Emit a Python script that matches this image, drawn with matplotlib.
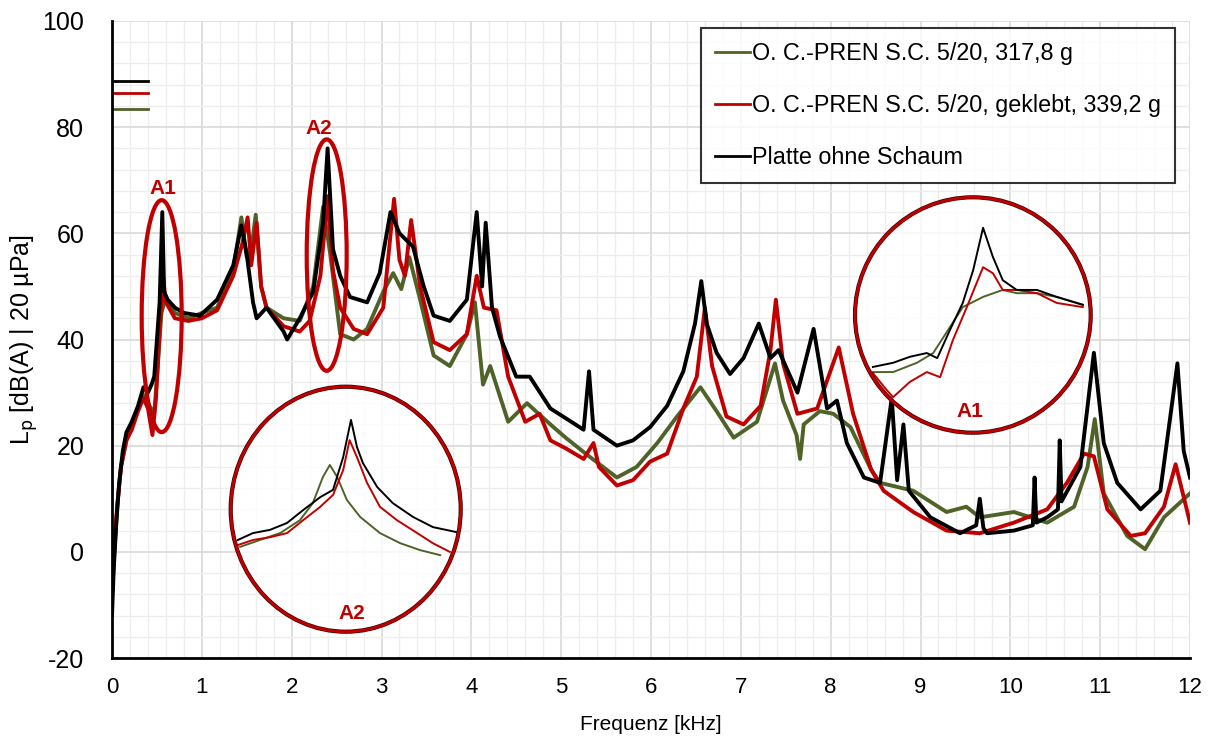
import matplotlib
matplotlib.use("Agg")
import matplotlib.pyplot as plt
from matplotlib.patches import Ellipse
from matplotlib.ticker import MultipleLocator

plt.rcParams['font.family'] = ['Liberation Sans', 'DejaVu Sans']
plt.rcParams['axes.unicode_minus'] = False

GREEN = '#4f6228'
RED = '#c00000'
BLACK = '#000000'

labels = ['O. C.-PREN S.C. 5/20, 317,8 g',
          'O. C.-PREN S.C. 5/20, geklebt, 339,2 g',
          'Platte ohne Schaum']

# spectra, frequency in kHz, level in dB(A)
f_black = [0.00, 0.02, 0.05, 0.08, 0.12, 0.16, 0.22, 0.29, 0.35, 0.40, 0.44, 0.47, 0.50, 0.53,
           0.56, 0.58, 0.62, 0.70, 0.80, 0.98, 1.17, 1.35, 1.44, 1.50, 1.57, 1.61, 1.72, 1.91,
           1.95, 2.09, 2.24, 2.35, 2.40, 2.46, 2.54, 2.65, 2.84, 2.98, 3.10, 3.20, 3.35, 3.47,
           3.58, 3.76, 3.95, 4.06, 4.12, 4.16, 4.23, 4.32, 4.50, 4.65, 4.88, 5.02, 5.25, 5.31,
           5.36, 5.62, 5.80, 5.99, 6.18, 6.36, 6.49, 6.56, 6.62, 6.73, 6.88, 7.03, 7.20, 7.33,
           7.42, 7.63, 7.81, 7.96, 8.07, 8.18, 8.37, 8.55, 8.68, 8.74, 8.81, 8.87, 9.11, 9.44,
           9.62, 9.66, 9.70, 9.74, 10.04, 10.25, 10.27, 10.29, 10.41, 10.53, 10.55, 10.57,
           10.78, 10.93, 11.04, 11.19, 11.45, 11.67, 11.86, 11.93, 12.00]
L_black = [-12, -3, 6, 13, 19, 22.5, 24.5, 27.5, 31, 30, 31.5, 33, 40, 47,
           64, 49, 47.5, 46, 45, 44.5, 47.5, 54, 61.5, 56, 47, 44, 46, 41.5,
           40, 44, 49, 62, 76, 57, 52, 48, 47, 52.5, 64, 60, 57.5, 50,
           44.5, 43.5, 47.5, 64, 50, 62, 46, 40.5, 33, 33, 27, 25.5, 23, 34,
           23, 20, 21, 23.5, 27.5, 34, 43, 51, 43, 37.5, 33.5, 36.5, 43, 36.5,
           38, 30, 42, 27, 28.5, 20.5, 14, 13, 29, 13.5, 24, 11.5, 6.5, 3.5,
           5, 10, 4.5, 3.5, 4, 5, 14, 5.5, 6.5, 8, 21, 9.5,
           16, 37.5, 20.5, 13, 8, 11.5, 35.5, 19, 14]

f_red = [0.00, 0.03, 0.06, 0.10, 0.16, 0.22, 0.29, 0.35, 0.40, 0.45, 0.49, 0.53, 0.57, 0.60,
         0.70, 0.85, 1.00, 1.17, 1.35, 1.45, 1.51, 1.55, 1.61, 1.66, 1.72, 1.91, 2.09, 2.20,
         2.32, 2.40, 2.46, 2.54, 2.69, 2.84, 3.02, 3.14, 3.20, 3.26, 3.33, 3.43, 3.58, 3.76,
         3.95, 4.06, 4.14, 4.28, 4.41, 4.60, 4.76, 4.88, 5.05, 5.25, 5.36, 5.42, 5.62, 5.80,
         5.99, 6.18, 6.36, 6.51, 6.60, 6.68, 6.84, 7.03, 7.22, 7.33, 7.39, 7.47, 7.63, 7.85,
         8.09, 8.25, 8.45, 8.59, 8.92, 9.29, 9.66, 10.04, 10.41, 10.63, 10.82, 10.93, 11.08,
         11.34, 11.50, 11.71, 11.84, 12.00]
L_red = [-8, 2, 9, 16, 21, 23, 26.5, 29, 27, 22, 29, 42, 51.5, 47,
         44, 43.5, 44, 45.5, 52, 58, 63, 54, 62, 50, 46, 42.5, 41.5, 43.5,
         52, 67, 53, 46, 42, 41, 46, 66.5, 55, 52, 62.5, 50, 39.5, 38,
         41, 52, 46, 45.5, 33, 24.5, 26, 21, 19.5, 17.5, 20.5, 16, 12.5, 13.5,
         17, 18.5, 27, 33, 46, 35, 25.5, 24, 27.5, 38, 47.5, 35.5, 26, 27,
         38.5, 26, 15.5, 11.5, 7.5, 4, 3.5, 5.5, 8, 13, 18.5, 18, 8,
         3, 3.5, 8.5, 16.5, 5.5]

f_green = [0.00, 0.03, 0.06, 0.10, 0.16, 0.22, 0.29, 0.35, 0.40, 0.47, 0.51, 0.55, 0.60, 0.70,
           0.85, 1.00, 1.17, 1.35, 1.44, 1.50, 1.55, 1.60, 1.66, 1.72, 1.91, 2.09, 2.24, 2.35,
           2.43, 2.54, 2.69, 2.84, 3.02, 3.13, 3.22, 3.31, 3.43, 3.58, 3.76, 3.95, 4.04, 4.13,
           4.21, 4.41, 4.62, 4.88, 5.05, 5.31, 5.62, 5.84, 6.07, 6.29, 6.55, 6.73, 6.92, 7.18,
           7.38, 7.47, 7.62, 7.66, 7.70, 7.88, 8.03, 8.22, 8.45, 8.55, 8.92, 9.29, 9.51, 9.66,
           10.04, 10.41, 10.71, 10.86, 10.94, 11.04, 11.30, 11.50, 11.71, 12.00]
L_green = [-8, 1, 9, 16, 21, 23.5, 27, 29.5, 28, 26, 35, 45, 48, 45,
           44, 45, 46, 53, 63, 55.5, 57, 63.5, 50, 46, 44, 43.5, 50, 65,
           56, 41, 40, 42, 49, 52.5, 49.5, 55.5, 47.5, 37, 35, 41, 47, 31.5,
           35, 24.5, 28, 24, 21.5, 18, 14, 16, 20.5, 25.5, 31, 26.5, 21.5, 24.5,
           35.5, 28.5, 22, 17.5, 24, 26.5, 26, 23.5, 15.5, 13, 11.5, 7.5, 8.5, 6.5,
           7.5, 5.5, 8.5, 16, 25, 11, 3, 0.5, 6.5, 11]

# overall levels (short bars top left)
total_levels = [83.5, 86.4, 88.7]

# magnified detail A1 around 0.55 kHz
a1_f_black = [0.386, 0.421, 0.450, 0.479, 0.497, 0.519, 0.541, 0.559, 0.576, 0.593, 0.610, 0.634, 0.669, 0.703, 0.748]
a1_L_black = [28.8, 29.7, 31.0, 31.8, 30.7, 36.8, 42.6, 49.7, 58.8, 52.5, 47.5, 45.4, 45.4, 43.9, 42.2]
a1_f_red = [0.386, 0.410, 0.421, 0.450, 0.479, 0.502, 0.524, 0.548, 0.576, 0.593, 0.610, 0.634, 0.669, 0.703, 0.748]
a1_L_red = [27.5, 23.8, 22.3, 25.6, 27.7, 26.6, 34.6, 41.7, 50.3, 49.0, 45.4, 45.4, 44.7, 42.6, 41.7]
a1_f_green = [0.386, 0.421, 0.462, 0.490, 0.519, 0.541, 0.576, 0.610, 0.634, 0.669, 0.703, 0.748]
a1_L_green = [27.7, 27.7, 29.7, 31.8, 37.4, 41.7, 43.9, 45.4, 44.7, 44.7, 43.9, 42.2]

# magnified detail A2 around 2.4 kHz
a2_f_black = [2.167, 2.200, 2.237, 2.274, 2.309, 2.346, 2.374, 2.396, 2.413, 2.426, 2.439, 2.470, 2.504, 2.548, 2.591, 2.643]
a2_L_black = [47.4, 48.9, 49.6, 51.1, 53.9, 56.7, 58.3, 65.4, 73.5, 67.6, 64.1, 58.9, 55.4, 52.4, 50.2, 49.1]
a2_f_red = [2.167, 2.200, 2.237, 2.274, 2.309, 2.346, 2.374, 2.396, 2.410, 2.426, 2.448, 2.476, 2.513, 2.557, 2.591, 2.628]
a2_L_red = [46.3, 47.4, 48.0, 48.9, 51.7, 54.6, 57.2, 62.6, 69.1, 65.4, 59.8, 54.6, 51.7, 48.9, 46.7, 44.8]
a2_f_green = [2.172, 2.215, 2.259, 2.302, 2.330, 2.352, 2.367, 2.383, 2.404, 2.433, 2.476, 2.520, 2.563, 2.607]
a2_L_green = [45.9, 47.4, 48.9, 51.7, 55.4, 61.1, 63.7, 61.1, 56.1, 52.4, 48.9, 46.7, 45.2, 44.1]

W, H = 1214, 742
fig = plt.figure(figsize=(W / 100, H / 100), dpi=100)
ax = fig.add_axes([112 / W, 1 - 658 / H, 1078 / W, 637 / H])

ax.plot(f_green, L_green, color=GREEN, lw=2.8, label=labels[0], zorder=3)
ax.plot(f_red, L_red, color=RED, lw=2.8, label=labels[1], zorder=4)
ax.plot(f_black, L_black, color=BLACK, lw=2.8, label=labels[2], zorder=5)

for lev, c in zip(total_levels, [GREEN, RED, BLACK]):
    ax.plot([0, 0.4], [lev, lev], color=c, lw=2, zorder=5)

# markings around the two resonances
ax.add_patch(Ellipse((0.553, 44.4), 0.445, 43.7, fill=False, ec=RED, lw=3, zorder=6))
ax.add_patch(Ellipse((2.39, 55.9), 0.445, 43.6, fill=False, ec=RED, lw=3, zorder=6))
ax.text(0.564, 68.5, 'A1', color=RED, fontsize=15, fontweight='bold', ha='center', va='center')
ax.text(2.30, 79.8, 'A2', color=RED, fontsize=15, fontweight='bold', ha='center', va='center')

ax.set_xlim(0, 12)
ax.set_ylim(-20, 100)
ax.set_xticks(range(0, 13))
ax.set_yticks(range(-20, 101, 20))
ax.xaxis.set_minor_locator(MultipleLocator(0.2))
ax.yaxis.set_minor_locator(MultipleLocator(4))
ax.grid(which='major', color='#d9d9d9', lw=1.2)
ax.grid(which='minor', color='#ededed', lw=0.9)
ax.set_axisbelow(True)
ax.tick_params(which='both', length=0)
ax.tick_params(axis='y', labelsize=18, pad=20)
ax.tick_params(axis='x', labelsize=16, pad=14)
for s in ['top', 'right']:
    ax.spines[s].set_visible(False)
for s in ['left', 'bottom']:
    ax.spines[s].set_linewidth(2)
    ax.spines[s].set_zorder(7)

ax.set_xlabel('Frequenz [kHz]', fontsize=15, labelpad=12)
ax.set_ylabel(r'L$_\mathrm{p}$ [dB(A) | 20 µPa]', fontsize=18, labelpad=2)

leg = ax.legend(loc='upper left', bbox_to_anchor=(0.546, 0.989), fontsize=16.8,
                frameon=True, fancybox=False, edgecolor='black', handlelength=1.5,
                handletextpad=0.1, labelspacing=1.25, borderpad=0.6, borderaxespad=0)
leg.get_frame().set_linewidth(1.5)
for line in leg.get_lines():
    line.set_linewidth(2)


def detail(box, xlim, ylim, series, tag, tag_xy):
    x0, y0, x1, y1 = box
    ins = fig.add_axes([x0 / W, 1 - y1 / H, (x1 - x0) / W, (y1 - y0) / H])
    ins.set_xlim(*xlim)
    ins.set_ylim(*ylim)
    ins.axis('off')
    ins.patch.set_alpha(0)
    bg = Ellipse((0.5, 0.5), 1, 1, transform=ins.transAxes, fc='white', alpha=0.8,
                 ec='none', zorder=0)
    ins.add_patch(bg)
    clip = Ellipse((0.5, 0.5), 1, 1, transform=ins.transAxes, fc='none', ec='none')
    ins.add_patch(clip)
    for f, L, c in series:
        ln, = ins.plot(f, L, color=c, lw=1.4, zorder=2)
        ln.set_clip_path(clip)
    ins.add_patch(Ellipse((0.5, 0.5), 1, 1, transform=ins.transAxes, fc='none',
                          ec='#3a0000', lw=3.0, zorder=3, clip_on=False))
    ins.add_patch(Ellipse((0.5, 0.5), 1, 1, transform=ins.transAxes, fc='none',
                          ec=RED, lw=2.0, zorder=4, clip_on=False))
    fig.text(tag_xy[0] / W, 1 - tag_xy[1] / H, tag, color=RED, fontsize=15,
             fontweight='bold', ha='center', va='center')


detail((230.7, 386.7, 460.7, 631.7), (2.1515, 2.6515), (27.46, 80.72),
       [(a2_f_green, a2_L_green, GREEN), (a2_f_red, a2_L_red, RED),
        (a2_f_black, a2_L_black, BLACK)], 'A2', (351.7, 613.3))
detail((855, 197.3, 1090.7, 432.7), (0.3552, 0.7616), (14.63, 65.37),
       [(a1_f_green, a1_L_green, GREEN), (a1_f_red, a1_L_red, RED),
        (a1_f_black, a1_L_black, BLACK)], 'A1', (970, 411.7))

fig.savefig('out.png', dpi=100)
